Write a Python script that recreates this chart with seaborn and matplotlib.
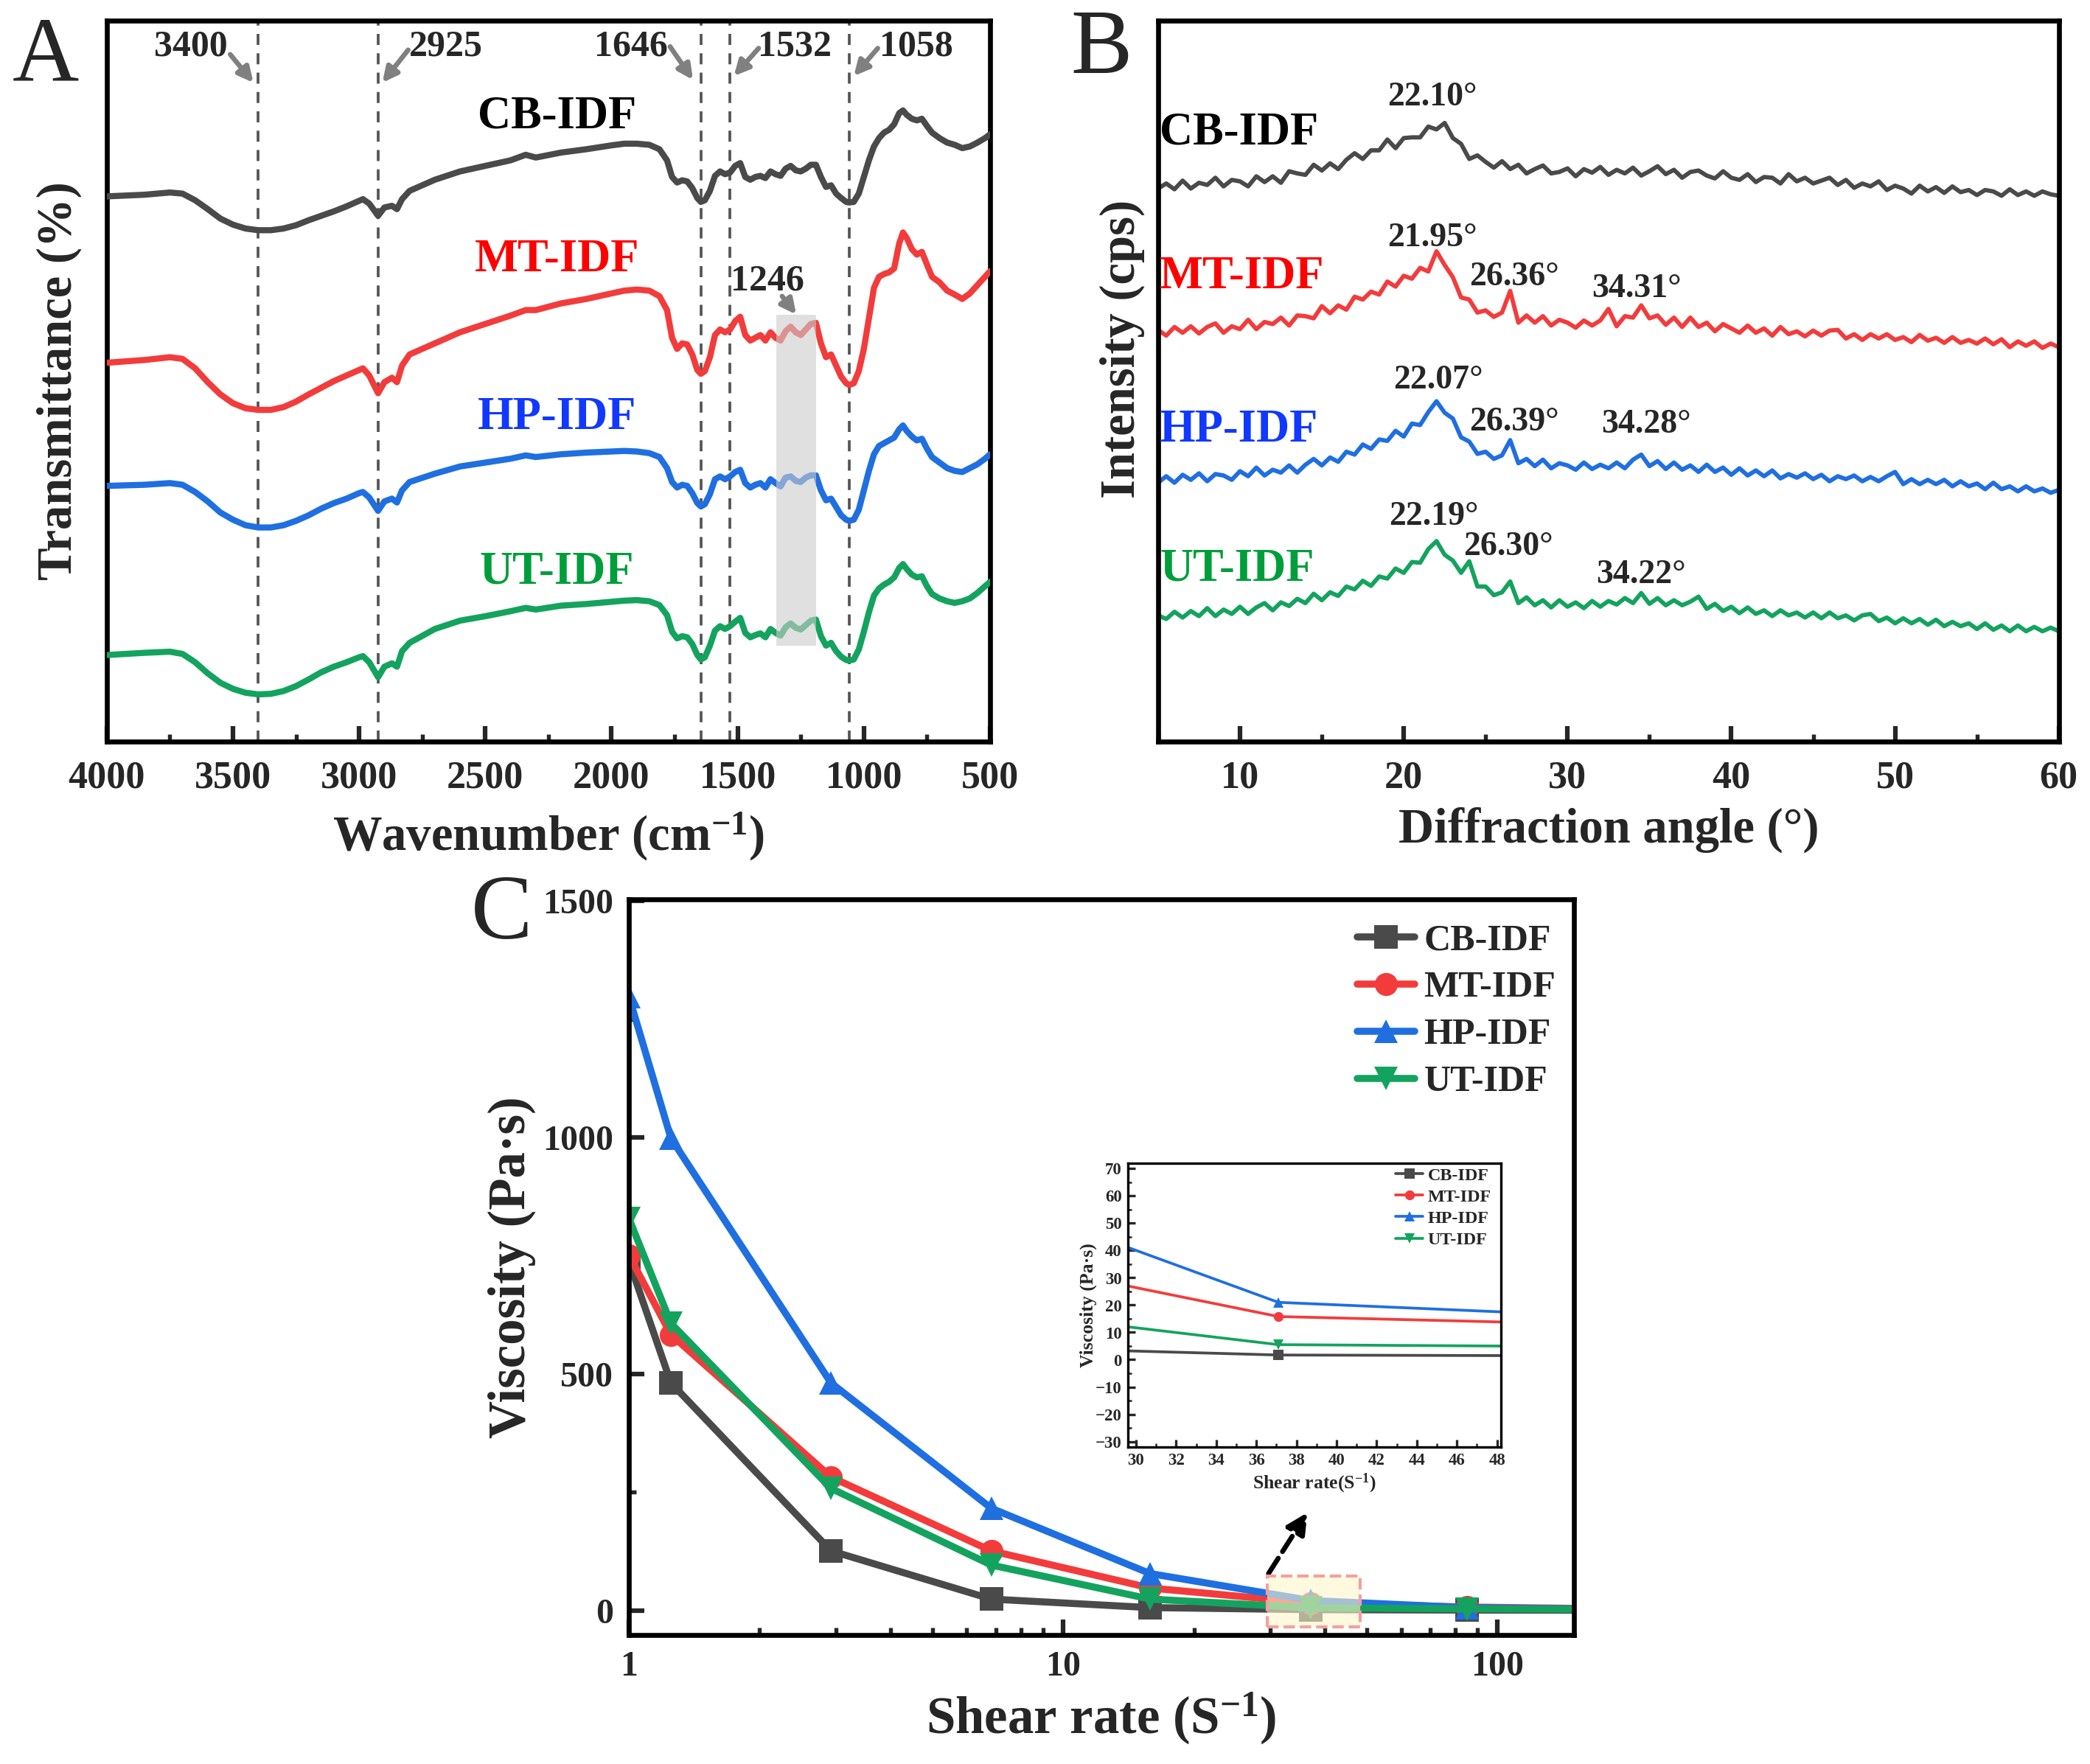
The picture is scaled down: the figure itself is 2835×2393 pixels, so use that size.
import numpy as np
import pandas as pd
import matplotlib
matplotlib.use('Agg')
import matplotlib.pyplot as plt
from matplotlib.patches import Rectangle
from matplotlib.ticker import MultipleLocator, NullFormatter
import seaborn as sns

sns.set_theme(style='ticks')
plt.rcParams['font.family'] = ['Liberation Serif', 'DejaVu Serif']
plt.rcParams['font.weight'] = 'bold'
plt.rcParams['axes.labelweight'] = 'bold'
plt.rcParams['mathtext.fontset'] = 'custom'
plt.rcParams['mathtext.rm'] = 'Liberation Serif:bold'
plt.rcParams['mathtext.bf'] = 'Liberation Serif:bold'
plt.rcParams['mathtext.it'] = 'Liberation Serif:bold'

samples = ['CB-IDF', 'MT-IDF', 'HP-IDF', 'UT-IDF']
line_colors = ['#4a4a4a', '#f23c3c', '#1f6fe0', '#14a35e']
text_colors = ['#000000', '#ff0000', '#1038ff', '#009e3a']

# ---- A: FTIR (arbitrary transmittance units, curves stacked) ----
wavenumber = [4000, 3850, 3750, 3700, 3650, 3600, 3550, 3500, 3450, 3400,
              3350, 3300, 3250, 3200, 3150, 3100, 3050, 3000, 2985, 2960,
              2925, 2900, 2870, 2850, 2830, 2800, 2700, 2600, 2500, 2400,
              2340, 2300, 2200, 2100, 2000, 1950, 1900, 1850, 1810, 1780,
              1760, 1740, 1720, 1700, 1680, 1660, 1646, 1630, 1610, 1590,
              1570, 1550, 1530, 1510, 1490, 1470, 1450, 1430, 1410, 1390,
              1370, 1350, 1330, 1310, 1290, 1270, 1250, 1230, 1210, 1190,
              1170, 1150, 1130, 1110, 1090, 1070, 1058, 1040, 1020, 1000,
              980, 960, 940, 920, 900, 880, 860, 845, 830, 810,
              790, 770, 750, 730, 700, 670, 640, 610, 580, 550,
              520, 500]
ftir_cb = [1045, 1048, 1052, 1050, 1038, 1022, 1005, 994, 987, 984,
           984, 987, 993, 1002, 1010, 1018, 1027, 1037, 1040, 1032,
           1010, 1025, 1028, 1022, 1040, 1055, 1075, 1090, 1100, 1110,
           1120, 1115, 1124, 1130, 1137, 1140, 1140, 1138, 1130, 1110,
           1080, 1070, 1074, 1072, 1060, 1042, 1035, 1038, 1055, 1082,
           1090, 1085, 1088, 1100, 1105, 1080, 1075, 1080, 1082, 1078,
           1090, 1085, 1082, 1095, 1100, 1092, 1090, 1095, 1102, 1102,
           1080, 1062, 1065, 1050, 1042, 1035, 1034, 1035, 1050, 1080,
           1110, 1135, 1150, 1160, 1165, 1175, 1195, 1200, 1192, 1185,
           1182, 1185, 1172, 1160, 1150, 1142, 1138, 1132, 1135, 1142,
           1150, 1157]
ftir_mt = [745, 750, 755, 752, 735, 710, 688, 672, 663, 660,
           660, 665, 675, 688, 700, 712, 722, 732, 735, 722,
           690, 710, 718, 710, 740, 760, 780, 800, 815, 830,
           840, 840, 852, 860, 870, 875, 877, 875, 865, 840,
           790, 770, 780, 778, 760, 732, 725, 730, 755, 795,
           805, 800, 805, 820, 828, 795, 785, 790, 795, 785,
           800, 790, 785, 802, 810, 800, 795, 805, 815, 817,
           780, 755, 760, 740, 720, 708, 705, 708, 730, 770,
           825, 880, 900, 905, 908, 915, 960, 980, 970, 950,
           940, 945, 922, 900, 890, 875, 868, 860, 870, 885,
           900, 910]
ftir_hp = [523, 525, 528, 525, 512, 495, 475, 462, 452, 448,
           448, 452, 460, 470, 482, 492, 500, 510, 512, 502,
           478, 495, 500, 493, 515, 530, 545, 558, 565, 572,
           578, 575, 580, 583, 585, 586, 585, 582, 575, 555,
           530, 520, 525, 523, 510, 492, 486, 490, 508, 535,
           540, 535, 540, 548, 552, 528, 520, 525, 528, 520,
           535, 528, 522, 538, 540, 532, 530, 538, 542, 542,
           515, 497, 500, 485, 470, 462, 460, 462, 480, 515,
           550, 580, 595, 600, 605, 610, 625, 632, 622, 612,
           605, 608, 590, 575, 565, 555, 550, 548, 555, 562,
           572, 580]
ftir_ut = [218, 222, 224, 220, 205, 185, 168, 157, 150, 147,
           148, 153, 162, 174, 187, 197, 205, 214, 216, 205,
           178, 197, 203, 197, 225, 240, 265, 280, 288, 297,
           303, 300, 307, 310, 314, 316, 317, 315, 308, 290,
           260, 248, 252, 250, 238, 218, 210, 214, 235, 262,
           270, 265, 270, 278, 285, 258, 250, 254, 257, 250,
           265, 258, 253, 268, 275, 267, 264, 272, 280, 282,
           252, 235, 240, 225, 215, 209, 208, 210, 228, 260,
           295, 325, 338, 345, 350, 358, 375, 382, 373, 363,
           358, 360, 342, 328, 320, 315, 312, 315, 320, 330,
           342, 350]
ftir_peaks = [3400, 2925, 1646, 1532, 1058]

# ---- B: XRD (arbitrary intensity, curves stacked) ----
two_theta = [5.0, 5.5, 6.0, 6.5, 7.0, 7.5, 8.0, 8.5, 9.0, 9.5,
             10.0, 10.5, 11.0, 11.5, 12.0, 12.5, 13.0, 13.5, 14.0, 14.5,
             15.0, 15.5, 16.0, 16.5, 17.0, 17.5, 18.0, 18.5, 19.0, 19.5,
             20.0, 20.5, 21.0, 21.5, 22.0, 22.5, 23.0, 23.5, 24.0, 24.5,
             25.0, 25.5, 26.0, 26.5, 27.0, 27.5, 28.0, 28.5, 29.0, 29.5,
             30.0, 30.5, 31.0, 31.5, 32.0, 32.5, 33.0, 33.5, 34.0, 34.5,
             35.0, 35.5, 36.0, 36.5, 37.0, 37.5, 38.0, 38.5, 39.0, 39.5,
             40.0, 40.5, 41.0, 41.5, 42.0, 42.5, 43.0, 43.5, 44.0, 44.5,
             45.0, 45.5, 46.0, 46.5, 47.0, 47.5, 48.0, 48.5, 49.0, 49.5,
             50.0, 50.5, 51.0, 51.5, 52.0, 52.5, 53.0, 53.5, 54.0, 54.5,
             55.0, 55.5, 56.0, 56.5, 57.0, 57.5, 58.0, 58.5, 59.0, 59.5,
             60.0]
xrd_cb = [767, 774, 766, 778, 767, 775, 772, 782, 770, 779,
          777, 770, 784, 776, 784, 775, 791, 788, 786, 800,
          792, 802, 794, 807, 816, 808, 820, 820, 835, 823,
          837, 838, 838, 853, 849, 858, 837, 829, 808, 813,
          804, 796, 805, 794, 800, 788, 794, 799, 788, 790,
          795, 784, 794, 789, 797, 786, 793, 788, 796, 785,
          791, 798, 787, 793, 782, 790, 792, 785, 781, 791,
          782, 779, 787, 776, 783, 782, 774, 787, 777, 782,
          774, 778, 782, 772, 779, 768, 774, 770, 777, 765,
          771, 767, 760, 771, 763, 769, 761, 770, 762, 765,
          758, 765, 763, 757, 766, 758, 763, 757, 763, 759,
          757]
xrd_mt = [571, 563, 575, 567, 576, 566, 575, 580, 567, 576,
          572, 585, 572, 582, 579, 588, 577, 591, 590, 587,
          604, 594, 605, 599, 617, 613, 624, 620, 638, 631,
          646, 642, 657, 652, 680, 661, 644, 616, 613, 595,
          598, 589, 595, 625, 581, 591, 581, 590, 577, 585,
          581, 574, 584, 577, 584, 600, 576, 590, 588, 605,
          587, 591, 578, 588, 575, 588, 575, 581, 569, 579,
          573, 567, 577, 567, 573, 563, 575, 565, 569, 562,
          570, 563, 570, 571, 559, 565, 557, 565, 559, 565,
          557, 561, 554, 564, 556, 560, 553, 561, 553, 557,
          552, 559, 551, 558, 547, 555, 549, 555, 546, 552,
          547]
xrd_hp = [359, 368, 359, 370, 363, 372, 361, 371, 369, 363,
          375, 368, 380, 369, 377, 373, 383, 373, 384, 392,
          383, 394, 388, 402, 398, 412, 406, 419, 417, 431,
          423, 441, 439, 457, 472, 456, 448, 422, 416, 399,
          402, 392, 397, 418, 386, 392, 382, 391, 379, 386,
          383, 377, 387, 378, 384, 379, 387, 379, 391, 398,
          382, 389, 378, 387, 377, 383, 374, 384, 374, 380,
          370, 379, 369, 376, 368, 376, 365, 371, 366, 372,
          364, 370, 361, 368, 364, 369, 361, 367, 361, 368,
          374, 357, 364, 357, 363, 357, 363, 354, 361, 354,
          358, 350, 359, 350, 354, 347, 354, 347, 351, 345,
          349]
xrd_ut = [175, 170, 180, 172, 181, 174, 185, 174, 183, 177,
          187, 177, 186, 192, 182, 193, 188, 198, 192, 205,
          196, 207, 202, 215, 211, 223, 216, 229, 226, 240,
          234, 249, 248, 267, 278, 259, 251, 234, 250, 215,
          215, 203, 207, 222, 192, 200, 189, 196, 186, 196,
          187, 193, 185, 195, 187, 195, 190, 199, 192, 206,
          191, 199, 189, 196, 189, 194, 201, 184, 191, 181,
          187, 178, 186, 177, 182, 174, 182, 175, 179, 172,
          179, 171, 179, 171, 175, 168, 175, 177, 167, 172,
          164, 171, 164, 170, 162, 169, 160, 166, 160, 164,
          156, 164, 155, 161, 153, 161, 153, 159, 153, 158,
          153]
xrd_labels = [['22.10°'], ['21.95°', '26.36°', '34.31°'],
              ['22.07°', '26.39°', '34.28°'], ['22.19°', '26.30°', '34.22°']]

# ---- C: viscosity vs shear rate ----
shear_rate = [1.0, 1.25, 2.92, 6.83, 15.85, 37.1, 85.1, 200]
visc_cb = [739, 481, 126, 24, 6.0, 1.7, 0.8, 0.5]
visc_mt = [751, 583, 282, 126, 47.5, 15.8, 7.2, 3.0]
visc_hp = [1298, 998, 481, 216, 78, 21, 5.9, 2.0]
visc_ut = [829, 607, 258, 96, 24, 5.5, 3.3, 2.0]
markers = ['s', 'o', '^', 'v']

ftir = pd.DataFrame({'wavenumber': wavenumber * 4,
                     'T': ftir_cb + ftir_mt + ftir_hp + ftir_ut,
                     'sample': np.repeat(samples, len(wavenumber))})
xrd = pd.DataFrame({'angle': two_theta * 4,
                    'I': xrd_cb + xrd_mt + xrd_hp + xrd_ut,
                    'sample': np.repeat(samples, len(two_theta))})
visc = pd.DataFrame({'shear': shear_rate * 4,
                     'viscosity': visc_cb + visc_mt + visc_hp + visc_ut,
                     'sample': np.repeat(samples, len(shear_rate))})


def style_spines(ax, lw=1.6):
    for sp in ax.spines.values():
        sp.set_linewidth(lw)
        sp.set_color('black')


fig = plt.figure(figsize=(9.45, 7.977), dpi=300)

# ================= A =================
axA = fig.add_axes([0.0511, 0.5796, 0.4226, 0.4087])
sns.lineplot(data=ftir, x='wavenumber', y='T', hue='sample', hue_order=samples,
             palette=line_colors, estimator=None, sort=False, lw=2.0,
             legend=False, ax=axA, zorder=3)
axA.set_xlim(4000, 500)
axA.set_ylim(62, 1362)
axA.set_yticks([])
axA.xaxis.set_major_locator(MultipleLocator(500))
axA.xaxis.set_minor_locator(MultipleLocator(250))
axA.tick_params(axis='x', which='major', direction='in', length=5, width=1.5,
                labelsize=12.5, pad=6)
axA.tick_params(axis='x', which='minor', direction='in', length=2.5, width=1.3)
style_spines(axA)
for wn in ftir_peaks:
    axA.axvline(wn, color='#555555', ls=(0, (4, 3)), lw=0.9, zorder=1)

arrow_kw = dict(arrowstyle='-|>', color='#808080', lw=1.6, mutation_scale=10,
                shrinkA=0, shrinkB=0)
peak_text = [(3667, 1315), (2656, 1315), (1923, 1315), (1274, 1315), (792, 1315)]
peak_arrows = [((3511, 1301), (3419, 1250)), ((2806, 1309), (2908, 1250)),
               ((1768, 1315), (1677, 1255)), ((1417, 1312), (1515, 1262)),
               ((945, 1312), (1040, 1262))]
for wn, (tx, ty), (tail, tip) in zip(ftir_peaks, peak_text, peak_arrows):
    axA.text(tx, ty, str(wn), ha='center', va='center', fontsize=12)
    axA.annotate('', xy=tip, xytext=tail, arrowprops=arrow_kw)
axA.text(1382, 892, '1246', ha='center', va='center', fontsize=12)
axA.annotate('', xy=(1268, 832), xytext=(1324, 865), arrowprops=arrow_kw)
axA.add_patch(Rectangle((1189, 235), 157, 597, facecolor=(0.8, 0.8, 0.8, 0.6),
                        edgecolor='none', zorder=5))
for name, col, ty in zip(samples, text_colors, [1188, 930, 645, 367]):
    axA.text(2216, ty, name, color=col, ha='center', va='center', fontsize=15)
axA.set_xlabel('Wavenumber (cm$^{-1}$)', fontsize=16)
axA.set_ylabel('Transmittance (%)', fontsize=16)
axA.xaxis.set_label_coords(0.5, -0.095)
axA.yaxis.set_label_coords(-0.028, 0.5)

# ================= B =================
axB = fig.add_axes([0.5541, 0.5796, 0.4310, 0.4087])
sns.lineplot(data=xrd, x='angle', y='I', hue='sample', hue_order=samples,
             palette=line_colors, estimator=None, sort=False, lw=1.4,
             legend=False, ax=axB)
axB.set_xlim(5, 60)
axB.set_ylim(0, 1000)
axB.set_yticks([])
axB.xaxis.set_major_locator(MultipleLocator(10))
axB.xaxis.set_minor_locator(MultipleLocator(5))
axB.tick_params(axis='x', which='major', direction='in', length=5, width=1.5,
                labelsize=12.5, pad=6)
axB.tick_params(axis='x', which='minor', direction='in', length=2.5, width=1.3)
style_spines(axB)
xrd_label_pos = [[(21.75, 894)], [(21.77, 698), (26.75, 644), (34.2, 628)],
                 [(22.09, 501), (26.75, 443), (34.8, 440)],
                 [(21.85, 312), (26.4, 270), (34.5, 231)]]
for labs, poss in zip(xrd_labels, xrd_label_pos):
    for lab, (px, py) in zip(labs, poss):
        axB.text(px, py, lab, ha='center', va='center', fontsize=11)
for name, col, ty in zip(samples, text_colors, [844, 644, 432, 239]):
    axB.text(5.1, ty, name, color=col, ha='left', va='center', fontsize=15)
axB.set_xlabel('Diffraction angle (°)', fontsize=16)
axB.set_ylabel('Intensity (cps)', fontsize=16)
axB.xaxis.set_label_coords(0.5, -0.09)
axB.yaxis.set_label_coords(-0.015, 0.545)

# ================= C =================
axC = fig.add_axes([0.3009, 0.0731, 0.4522, 0.4170])
sns.lineplot(data=visc, x='shear', y='viscosity', hue='sample', style='sample',
             hue_order=samples, style_order=samples, palette=line_colors,
             markers=markers, dashes=False, markersize=7.5, markeredgewidth=0,
             lw=2.3, estimator=None, sort=False, legend=False, ax=axC)
axC.set_xscale('log')
axC.set_xlim(1, 150)
axC.set_ylim(-52, 1503)
axC.set_xticks([1, 10, 100])
axC.set_xticklabels(['1', '10', '100'])
axC.xaxis.set_minor_formatter(NullFormatter())
axC.yaxis.set_major_locator(MultipleLocator(500))
axC.yaxis.set_minor_locator(MultipleLocator(250))
axC.tick_params(which='major', direction='in', length=5, width=1.5,
                labelsize=11.5, pad=5)
axC.tick_params(which='minor', direction='in', length=2.5, width=1.3)
style_spines(axC)
for line, name in zip(axC.lines, samples):
    line.set_label(name)
axC.legend(loc='upper left', bbox_to_anchor=(0.771, 0.967), frameon=False,
           prop=dict(weight='bold', size=12), handlelength=1.55,
           handletextpad=0.25, labelspacing=0.36, borderpad=0, borderaxespad=0)
axC.add_patch(Rectangle((29.5, -35), 18.7, 107, facecolor=(1.0, 0.96, 0.8, 0.6),
                        edgecolor='#f4a0a0', ls='--', lw=1.0, zorder=6))
axC.annotate('', xy=(36.5, 207), xytext=(29.7, 78),
             arrowprops=dict(arrowstyle='-|>', ls='--', lw=1.6, color='black',
                             mutation_scale=14, shrinkA=0, shrinkB=0))
axC.set_xlabel('Shear rate (S$^{-1}$)', fontsize=17)
axC.set_ylabel('Viscosity (Pa·s)', fontsize=17)
axC.xaxis.set_label_coords(0.5, -0.075)
axC.yaxis.set_label_coords(-0.098, 0.5)

# inset
axI = fig.add_axes([0.5397, 0.1797, 0.1785, 0.1609])
sns.lineplot(data=visc, x='shear', y='viscosity', hue='sample', style='sample',
             hue_order=samples, style_order=samples, palette=line_colors,
             markers=markers, dashes=False, markersize=3.2, markeredgewidth=0,
             lw=0.9, estimator=None, sort=False, legend=False, ax=axI)
axI.set_xlim(29.6, 48.2)
axI.set_ylim(-32, 72)
axI.xaxis.set_major_locator(MultipleLocator(2))
axI.xaxis.set_minor_locator(MultipleLocator(1))
axI.yaxis.set_major_locator(MultipleLocator(10))
axI.yaxis.set_minor_locator(MultipleLocator(5))
axI.tick_params(which='major', direction='in', length=2.5, width=0.8,
                labelsize=5.5, pad=2)
axI.tick_params(which='minor', direction='in', length=1.3, width=0.6)
style_spines(axI, 0.8)
for line, name in zip(axI.lines, samples):
    line.set_label(name)
axI.legend(loc='upper left', bbox_to_anchor=(0.717, 0.985), frameon=False,
           prop=dict(weight='bold', size=5.8), handlelength=1.55,
           handletextpad=0.25, labelspacing=0.3, borderpad=0, borderaxespad=0)
axI.set_xlabel('Shear rate(S$^{-1}$)', fontsize=6.2)
axI.set_ylabel('Viscosity (Pa·s)', fontsize=6.2)
axI.xaxis.set_label_coords(0.5, -0.088)
axI.yaxis.set_label_coords(-0.083, 0.5)

# panel letters
for letter, (lx, ly) in zip(['A', 'B', 'C'], [(0.0219, 0.9666), (0.527, 0.971), (0.240, 0.4806)]):
    fig.text(lx, ly, letter, fontsize=30, fontweight='normal', ha='center', va='center')

fig.savefig('out.png', dpi=300)
